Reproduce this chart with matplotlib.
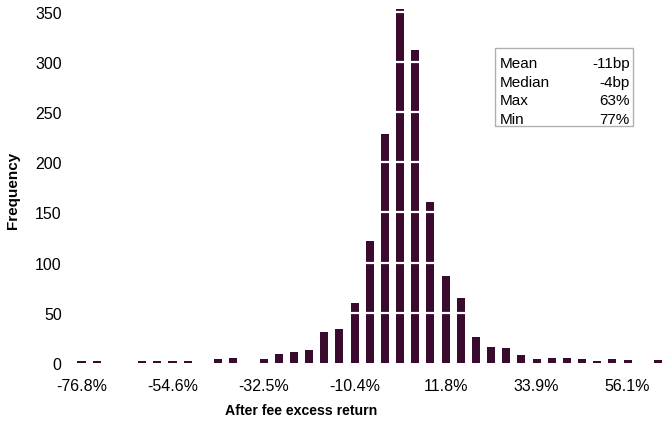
import matplotlib

matplotlib.use("Agg")
import matplotlib.pyplot as plt

plt.rcParams["font.family"] = ["Liberation Sans", "DejaVu Sans"]

# Histogram of after-fee excess returns, one bar per return bucket
counts = [2, 2, 0, 0, 2, 2, 2, 2, 0, 4, 5, 0, 4, 9, 11, 13, 31, 34, 60, 122,
          228, 353, 312, 160, 87, 65, 26, 16, 15, 8, 4, 5, 5, 4, 2, 4, 3, 0, 3]
tick_positions = [0, 6, 12, 18, 24, 30, 36]
tick_labels = ["-76.8%", "-54.6%", "-32.5%", "-10.4%", "11.8%", "33.9%", "56.1%"]
y_ticks = [0, 50, 100, 150, 200, 250, 300, 350]

stat_names = ["Mean", "Median", "Max", "Min"]
stat_values = ["-11bp", "-4bp", "63%", "77%"]

BAR_COLOR = "#3a0a2f"
W, H = 662, 427

fig = plt.figure(figsize=(W / 100, H / 100), dpi=100)
fig.patch.set_facecolor("white")

left, right, bottom, top = 70, 662, 364, 4
ax = fig.add_axes([left / W, (H - bottom) / H, (right - left) / W, (bottom - top) / H])

step = 15.17
px_per_unit = 1.004
ax.set_xlim(-(81.5 - left) / step, (right - 81.5) / step)
ax.set_ylim(0, (bottom - top) / px_per_unit)

ax.bar(range(len(counts)), counts, width=0.53, color=BAR_COLOR, zorder=2)

# gridlines show only where they cross the bars
for y in y_ticks[1:]:
    ax.axhline(y, color="white", linewidth=1.6, zorder=3)

for side in ax.spines.values():
    side.set_visible(False)

ax.set_xticks(tick_positions)
ax.set_xticklabels(tick_labels)
ax.set_yticks(y_ticks)
ax.tick_params(axis="both", length=0, labelsize=11.5)
ax.tick_params(axis="y", pad=6)
ax.tick_params(axis="x", pad=11)

fig.text(13 / W, 1 - 190 / H, "Frequency", rotation=90, ha="center", va="center",
         fontsize=11, fontweight="bold")
fig.text(301 / W, 1 - 411 / H, "After fee excess return", ha="center", va="center",
         fontsize=10.2, fontweight="bold")

# summary statistics box
box = plt.Rectangle((495 / W, 1 - 127 / H), 138 / W, 78 / H, transform=fig.transFigure,
                    facecolor="white", edgecolor="#b0b0b0", linewidth=1, zorder=5)
fig.add_artist(box)
for i, (name, val) in enumerate(zip(stat_names, stat_values)):
    yy = 1 - (64 + i * 18.7) / H
    fig.text(500 / W, yy, name, ha="left", va="center", fontsize=11, zorder=6)
    fig.text(630 / W, yy, val, ha="right", va="center", fontsize=11, zorder=6)

fig.savefig("out.png", dpi=100, facecolor="white")
